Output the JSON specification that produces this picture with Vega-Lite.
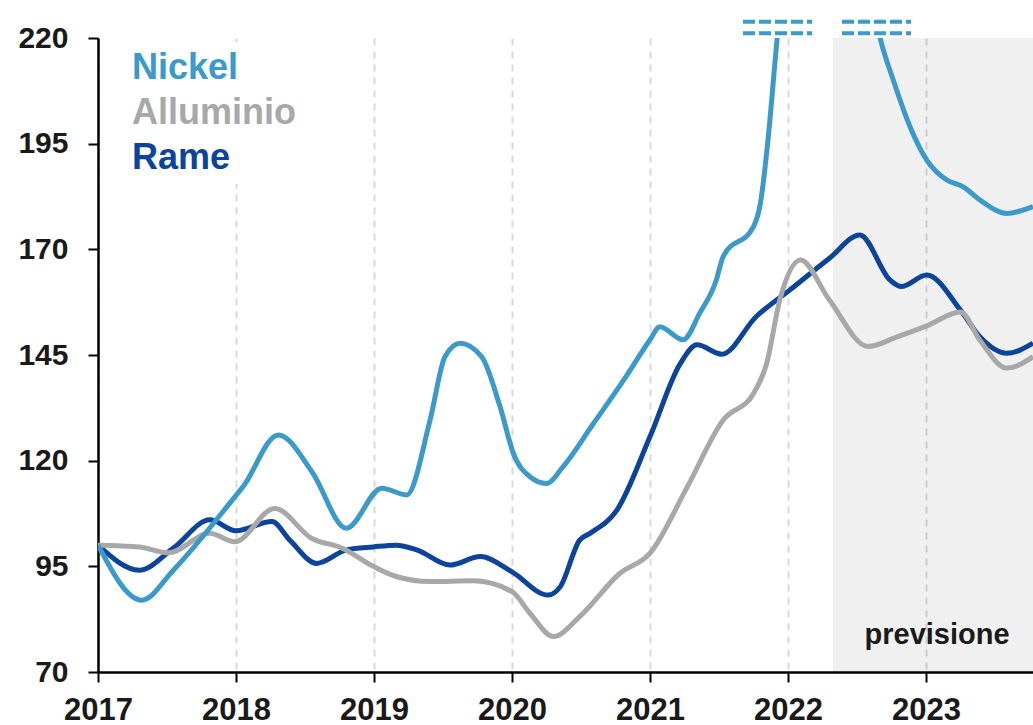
{
  "$schema": "https://vega.github.io/schema/vega-lite/v6.json",
  "width": 935,
  "height": 634,
  "autosize": {"type": "none"},
  "padding": {"left": 98, "top": 38, "right": 0, "bottom": 53},
  "background": "white",
  "config": {"view": {"stroke": null}, "font": "Liberation Sans"},
  "datasets": {
    "series": [
      {"metal": "Nickel", "t": 2017.0, "v": 100},
      {"metal": "Nickel", "t": 2017.317, "v": 87.0},
      {"metal": "Nickel", "t": 2017.546, "v": 94.1},
      {"metal": "Nickel", "t": 2017.993, "v": 111.5},
      {"metal": "Nickel", "t": 2018.05, "v": 113.8},
      {"metal": "Nickel", "t": 2018.307, "v": 126.1},
      {"metal": "Nickel", "t": 2018.55, "v": 117.4},
      {"metal": "Nickel", "t": 2018.8, "v": 104.0},
      {"metal": "Nickel", "t": 2019.056, "v": 113.5},
      {"metal": "Nickel", "t": 2019.237, "v": 111.9},
      {"metal": "Nickel", "t": 2019.406, "v": 129.6},
      {"metal": "Nickel", "t": 2019.514, "v": 144.6},
      {"metal": "Nickel", "t": 2019.623, "v": 147.8},
      {"metal": "Nickel", "t": 2019.78, "v": 144.6},
      {"metal": "Nickel", "t": 2019.913, "v": 132.8},
      {"metal": "Nickel", "t": 2020.01, "v": 121.7},
      {"metal": "Nickel", "t": 2020.13, "v": 116.2},
      {"metal": "Nickel", "t": 2020.25, "v": 114.6},
      {"metal": "Nickel", "t": 2020.37, "v": 118.6},
      {"metal": "Nickel", "t": 2020.59, "v": 128.8},
      {"metal": "Nickel", "t": 2020.81, "v": 139.1},
      {"metal": "Nickel", "t": 2021.0, "v": 148.6},
      {"metal": "Nickel", "t": 2021.07, "v": 151.7},
      {"metal": "Nickel", "t": 2021.24, "v": 148.6},
      {"metal": "Nickel", "t": 2021.36, "v": 154.9},
      {"metal": "Nickel", "t": 2021.48, "v": 162.7},
      {"metal": "Nickel", "t": 2021.53, "v": 168.3},
      {"metal": "Nickel", "t": 2021.75, "v": 175.4},
      {"metal": "Nickel", "t": 2021.8, "v": 180.9},
      {"metal": "Nickel", "t": 2021.85, "v": 194.3},
      {"metal": "Nickel", "t": 2021.92, "v": 219.5},
      {"metal": "Nickel", "t": 2022.0, "v": 245},
      {"metal": "Nickel", "t": 2022.3, "v": 270},
      {"metal": "Nickel", "t": 2022.55, "v": 240},
      {"metal": "Nickel", "t": 2022.667, "v": 220},
      {"metal": "Nickel", "t": 2022.763, "v": 210},
      {"metal": "Nickel", "t": 2022.884, "v": 199},
      {"metal": "Nickel", "t": 2023.005, "v": 191.1},
      {"metal": "Nickel", "t": 2023.15, "v": 186.4},
      {"metal": "Nickel", "t": 2023.27, "v": 184.8},
      {"metal": "Nickel", "t": 2023.39, "v": 181.7},
      {"metal": "Nickel", "t": 2023.585, "v": 178.5},
      {"metal": "Nickel", "t": 2023.775, "v": 180.1},
      {"metal": "Rame", "t": 2017.0, "v": 100},
      {"metal": "Rame", "t": 2017.3, "v": 94.1},
      {"metal": "Rame", "t": 2017.546, "v": 99.3},
      {"metal": "Rame", "t": 2017.81, "v": 106.0},
      {"metal": "Rame", "t": 2018.0, "v": 103.4},
      {"metal": "Rame", "t": 2018.26, "v": 105.6},
      {"metal": "Rame", "t": 2018.39, "v": 101.2},
      {"metal": "Rame", "t": 2018.585, "v": 95.7},
      {"metal": "Rame", "t": 2018.8, "v": 98.9},
      {"metal": "Rame", "t": 2018.995, "v": 99.6},
      {"metal": "Rame", "t": 2019.16, "v": 100.0},
      {"metal": "Rame", "t": 2019.31, "v": 98.9},
      {"metal": "Rame", "t": 2019.55, "v": 95.3},
      {"metal": "Rame", "t": 2019.77, "v": 97.3},
      {"metal": "Rame", "t": 2020.0, "v": 93.7},
      {"metal": "Rame", "t": 2020.26, "v": 88.2},
      {"metal": "Rame", "t": 2020.35, "v": 90.2},
      {"metal": "Rame", "t": 2020.49, "v": 101.2},
      {"metal": "Rame", "t": 2020.565, "v": 102.8},
      {"metal": "Rame", "t": 2020.76, "v": 108.3},
      {"metal": "Rame", "t": 2021.0, "v": 125.7},
      {"metal": "Rame", "t": 2021.22, "v": 143.0},
      {"metal": "Rame", "t": 2021.34, "v": 147.4},
      {"metal": "Rame", "t": 2021.52, "v": 145.2},
      {"metal": "Rame", "t": 2021.77, "v": 154.1},
      {"metal": "Rame", "t": 2022.014, "v": 160.4},
      {"metal": "Rame", "t": 2022.3, "v": 167.9},
      {"metal": "Rame", "t": 2022.52, "v": 173.4},
      {"metal": "Rame", "t": 2022.74, "v": 162.7},
      {"metal": "Rame", "t": 2022.82, "v": 161.2},
      {"metal": "Rame", "t": 2023.005, "v": 163.9},
      {"metal": "Rame", "t": 2023.25, "v": 155.6},
      {"metal": "Rame", "t": 2023.39, "v": 149.3},
      {"metal": "Rame", "t": 2023.585, "v": 145.4},
      {"metal": "Rame", "t": 2023.775, "v": 147.8},
      {"metal": "Alluminio", "t": 2017.0, "v": 100},
      {"metal": "Alluminio", "t": 2017.3, "v": 99.6},
      {"metal": "Alluminio", "t": 2017.51, "v": 98.2},
      {"metal": "Alluminio", "t": 2017.81, "v": 102.8},
      {"metal": "Alluminio", "t": 2017.99, "v": 100.8},
      {"metal": "Alluminio", "t": 2018.28, "v": 108.7},
      {"metal": "Alluminio", "t": 2018.55, "v": 101.6},
      {"metal": "Alluminio", "t": 2018.77, "v": 99.3},
      {"metal": "Alluminio", "t": 2018.995, "v": 95.0},
      {"metal": "Alluminio", "t": 2019.16, "v": 92.6},
      {"metal": "Alluminio", "t": 2019.41, "v": 91.4},
      {"metal": "Alluminio", "t": 2019.72, "v": 91.6},
      {"metal": "Alluminio", "t": 2020.0, "v": 89.0},
      {"metal": "Alluminio", "t": 2020.13, "v": 83.9},
      {"metal": "Alluminio", "t": 2020.3, "v": 78.4},
      {"metal": "Alluminio", "t": 2020.49, "v": 83.1},
      {"metal": "Alluminio", "t": 2020.78, "v": 93.3},
      {"metal": "Alluminio", "t": 2021.0, "v": 98.1},
      {"metal": "Alluminio", "t": 2021.27, "v": 113.8},
      {"metal": "Alluminio", "t": 2021.53, "v": 129.6},
      {"metal": "Alluminio", "t": 2021.75, "v": 135.9},
      {"metal": "Alluminio", "t": 2021.845, "v": 143.0},
      {"metal": "Alluminio", "t": 2021.94, "v": 158.0},
      {"metal": "Alluminio", "t": 2022.09, "v": 167.5},
      {"metal": "Alluminio", "t": 2022.3, "v": 158.0},
      {"metal": "Alluminio", "t": 2022.58, "v": 147.0},
      {"metal": "Alluminio", "t": 2022.79, "v": 149.3},
      {"metal": "Alluminio", "t": 2023.005, "v": 151.9},
      {"metal": "Alluminio", "t": 2023.25, "v": 155.2},
      {"metal": "Alluminio", "t": 2023.39, "v": 148.5},
      {"metal": "Alluminio", "t": 2023.585, "v": 141.9},
      {"metal": "Alluminio", "t": 2023.775, "v": 144.6}
    ],
    "forecast": [
      {"start": 2022.326, "end": 2023.775, "labelT": 2023.08, "labelV": 76.6, "label": "previsione"}
    ],
    "breaks": [
      {"from": 2021.674, "to": 2022.174, "v": 223.86},
      {"from": 2021.674, "to": 2022.174, "v": 221.11},
      {"from": 2022.391, "to": 2022.891, "v": 223.86},
      {"from": 2022.391, "to": 2022.891, "v": 221.11}
    ]
  },
  "layer": [
    {
      "data": {"name": "forecast"},
      "mark": {"type": "rect", "color": "black", "opacity": 0.059},
      "encoding": {
        "x": {"field": "start", "type": "quantitative", "scale": {"domain": [2017, 2023.775], "nice": false, "zero": false}, "title": null},
        "x2": {"field": "end"},
        "y": {"datum": 220, "type": "quantitative", "scale": {"domain": [70, 220], "nice": false, "zero": false}},
        "y2": {"datum": 70}
      }
    },
    {
      "data": {"name": "forecast"},
      "mark": {"type": "text", "font": "Liberation Sans", "fontWeight": "bold", "fontSize": 29, "color": "#1a1a1a", "baseline": "alphabetic", "align": "center"},
      "encoding": {
        "x": {"field": "labelT", "type": "quantitative"},
        "y": {"field": "labelV", "type": "quantitative"},
        "text": {"field": "label"}
      }
    },
    {
      "data": {"name": "series"},
      "encoding": {
        "x": {
          "field": "t", "type": "quantitative",
          "scale": {"domain": [2017, 2023.775], "nice": false, "zero": false},
          "axis": {
            "title": null, "values": [2017, 2018, 2019, 2020, 2021, 2022, 2023], "format": "d",
            "grid": true, "gridColor": "#d9d9d9", "gridDash": [7, 6], "gridWidth": 2,
            "domainColor": "black", "domainWidth": 2.5, "tickColor": "black", "tickWidth": 2, "tickSize": 10,
            "labelFont": "Liberation Sans", "labelFontSize": 31, "labelFontWeight": "bold", "labelColor": "#1a1a1a",
            "labelPadding": 13, "labelFlush": false, "labelOverlap": false
          }
        },
        "y": {
          "field": "v", "type": "quantitative",
          "scale": {"domain": [70, 220], "nice": false, "zero": false},
          "axis": {
            "title": null, "values": [70, 95, 120, 145, 170, 195, 220], "grid": false,
            "domainColor": "black", "domainWidth": 2.5, "tickColor": "black", "tickWidth": 2, "tickSize": 10,
            "labelFont": "Liberation Sans", "labelFontSize": 30, "labelFontWeight": "bold", "labelColor": "#1a1a1a",
            "labelPadding": 20
          }
        },
        "color": {
          "field": "metal", "type": "nominal",
          "scale": {"domain": ["Nickel", "Alluminio", "Rame"], "range": ["#3b9ac9", "#a8a8a8", "#0c449b"]},
          "legend": {
            "orient": "none", "legendX": 30, "legendY": 4, "title": null,
            "symbolSize": 0, "symbolStrokeWidth": 0, "symbolOpacity": 0, "labelOffset": -40,
            "labelFont": "Liberation Sans", "labelFontSize": 36, "labelFontWeight": "bold", "labelLimit": 0,
            "rowPadding": 9, "fillColor": "white", "padding": 8,
            "encode": {"labels": {"update": {"fill": {"scale": "color", "field": "value"}}}}
          }
        }
      },
      "layer": [
        {"transform": [{"filter": "datum.metal === 'Rame'"}], "mark": {"type": "line", "interpolate": "monotone", "strokeWidth": 5, "clip": true}},
        {"transform": [{"filter": "datum.metal === 'Alluminio'"}], "mark": {"type": "line", "interpolate": "monotone", "strokeWidth": 5, "clip": true}},
        {"transform": [{"filter": "datum.metal === 'Nickel'"}], "mark": {"type": "line", "interpolate": "monotone", "strokeWidth": 5, "clip": true}}
      ]
    },
    {
      "data": {"name": "breaks"},
      "mark": {"type": "rule", "color": "#3b9ac9", "strokeWidth": 4, "strokeDash": [12, 4]},
      "encoding": {
        "x": {"field": "from", "type": "quantitative"},
        "x2": {"field": "to"},
        "y": {"field": "v", "type": "quantitative"}
      }
    }
  ]
}
